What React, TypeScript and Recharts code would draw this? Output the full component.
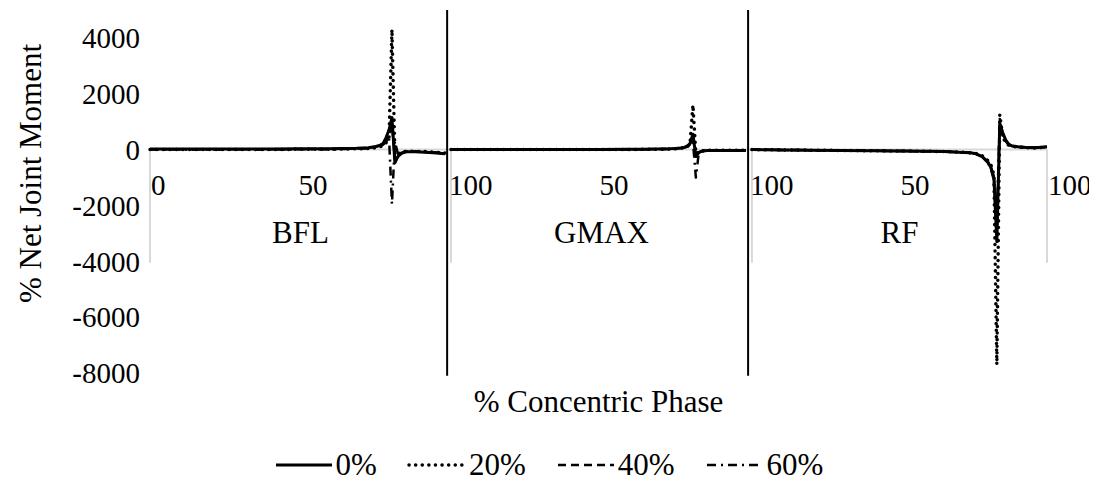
import React from 'react';
import {
  LineChart,
  Line,
  XAxis,
  YAxis,
  ReferenceLine,
  ReferenceDot,
  Legend,
} from 'recharts';

// Sampled positions within each concentric phase (0–100 %)
const phase = [0, 10, 20, 30, 40, 50, 60, 65, 70, 74, 76, 78, 79, 80, 81, 82, 83, 84, 85, 86, 87, 88, 90, 93, 96, 100];

const muscles = ['BFL', 'GMAX', 'RF'];
const loads = ['0%', '20%', '40%', '60%'];

// BFL
const bfl0 = [20, 20, 20, 20, 20, 30, 30, 40, 50, 70, 100, 160, 220, 430, 700, 1150, -470, -250, -150, -100, -80, -80, -80, -90, -110, -150];
const bfl20 = [0, 0, 0, 0, 0, 10, 10, 20, 30, 40, 60, 100, 150, 250, 400, 4300, -200, -150, -100, -80, -60, -60, -60, -70, -90, -120];
const bfl40 = [10, 10, 10, 10, 10, 20, 20, 30, 40, 60, 90, 140, 200, 300, 500, 900, -350, -200, -120, -90, -70, -70, -70, -80, -100, -140];
const bfl60 = [0, 0, 0, 0, 0, 10, 10, 20, 30, 50, 80, 120, 180, 280, 450, -1950, 300, -150, -100, -80, -60, -60, -60, -70, -90, -130];

// GMAX
const gmax0 = [0, 0, 0, 0, 0, 0, 10, 10, 20, 30, 40, 60, 80, 120, 220, 550, -250, -100, -60, -40, -30, -30, -30, -30, -30, -30];
const gmax20 = [0, 0, 0, 0, 0, 0, 0, 10, 10, 20, 30, 50, 70, 100, 200, 1600, -150, -80, -50, -30, -20, -20, -20, -20, -20, -20];
const gmax40 = [0, 0, 0, 0, 0, 0, 10, 10, 20, 30, 40, 60, 80, 110, 200, 450, -300, -100, -60, -40, -30, -30, -30, -30, -30, -30];
const gmax60 = [0, 0, 0, 0, 0, 0, 0, 10, 10, 20, 30, 50, 70, 100, 180, 300, -1000, -100, -50, -30, -20, -20, -20, -20, -20, -20];

// RF
const rf0 = [0, -10, -20, -30, -40, -50, -60, -70, -90, -110, -150, -250, -350, -450, -650, -1000, -3300, 950, 600, 350, 200, 140, 100, 80, 70, 100];
const rf20 = [0, -10, -20, -30, -40, -50, -60, -70, -90, -110, -140, -220, -300, -400, -550, -900, -7700, 1250, 450, 250, 160, 120, 90, 70, 60, 90];
const rf40 = [0, -10, -20, -30, -40, -50, -60, -70, -90, -120, -150, -260, -360, -480, -700, -1100, -2900, 850, 500, 300, 180, 130, 100, 80, 70, 90];
const rf60 = [0, -10, -20, -30, -40, -50, -60, -70, -90, -120, -150, -250, -350, -450, -650, -1000, -2400, 1100, 550, 300, 180, 130, 100, 80, 70, 90];

const panelSeries = [
  [bfl0, bfl20, bfl40, bfl60],
  [gmax0, gmax20, gmax40, gmax60],
  [rf0, rf20, rf40, rf60],
];

// Axis layout values
const yTicks = [4000, 2000, 0, -2000, -4000, -6000, -8000];
const panelStart = [0, 102, 204];
const panelCenter = [51, 153, 254];
const groupTickPos = [0, 102, 204, 304];
const dividerPos = [100.7, 202.7];
const phaseTickPos = [0, 50, 101, 152, 203, 254, 304];
const phaseTickText = ['0', '50', '100', '50', '100', '50', '100'];

const keys = ['l0', 'l20', 'l40', 'l60'];

type Row = { x: number; [k: string]: number | null };
const rows: Row[] = [];
panelSeries.forEach((series, p) => {
  phase.forEach((ph, i) => {
    const r: Row = { x: panelStart[p] + ph };
    keys.forEach((k, s) => {
      r[k] = series[s][i];
    });
    rows.push(r);
  });
  if (p < panelSeries.length - 1) {
    const gap: Row = { x: panelStart[p] + 101 };
    keys.forEach((k) => {
      gap[k] = null;
    });
    rows.push(gap);
  }
});

const FONT = '"Liberation Serif", "Times New Roman", serif';
const FS = 31;
const FS_TICK = 29;

const lineStyles = [
  { strokeWidth: 3, strokeDasharray: undefined as string | undefined, strokeLinecap: 'butt' as const },
  { strokeWidth: 3.5, strokeDasharray: '0.1 6.5', strokeLinecap: 'round' as const },
  { strokeWidth: 2.5, strokeDasharray: '8 5', strokeLinecap: 'butt' as const },
  { strokeWidth: 2.5, strokeDasharray: '9 5 2 5', strokeLinecap: 'butt' as const },
];

function LegendContent() {
  return (
    <div
      style={{
        display: 'flex',
        justifyContent: 'center',
        alignItems: 'center',
        height: 30,
        gap: 30,
        fontFamily: FONT,
        fontSize: FS,
        lineHeight: '30px',
        color: '#000',
      }}
    >
      {loads.map((name, i) => (
        <div key={name} style={{ display: 'flex', alignItems: 'center', gap: 2 }}>
          <svg width={60} height={10}>
            <line
              x1={2}
              y1={5}
              x2={58}
              y2={5}
              stroke="#000"
              strokeWidth={lineStyles[i].strokeWidth}
              strokeDasharray={lineStyles[i].strokeDasharray}
              strokeLinecap={lineStyles[i].strokeLinecap}
            />
          </svg>
          <span>{name}</span>
        </div>
      ))}
    </div>
  );
}

const textAt = (label: string, dx: number, dy: number, anchor: 'start' | 'middle', size: number) =>
  (props: any) => (
    <text
      x={props.cx + dx}
      y={props.cy + dy}
      textAnchor={anchor}
      fontFamily={FONT}
      fontSize={size}
      fill="#000"
    >
      {label}
    </text>
  );

export default function App() {
  return (
    <div style={{ width: 1081 }}>
      <style>{'.recharts-surface{overflow:visible}'}</style>
      <LineChart
        width={1081}
        height={472}
        data={rows}
        margin={{ top: 2, right: 42, left: 0, bottom: 0 }}
      >
        <XAxis
          dataKey="x"
          type="number"
          domain={[0, 304]}
          tick={false}
          tickLine={false}
          axisLine={false}
          height={77}
          label={{
            value: '% Concentric Phase',
            position: 'insideTop',
            offset: 17,
            fill: '#000',
            fontSize: FS,
            fontFamily: FONT,
          }}
        />
        <YAxis
          type="number"
          domain={[-8000, 5000]}
          ticks={yTicks}
          allowDataOverflow
          width={142}
          axisLine={false}
          tickLine={false}
          tickMargin={4}
          tick={{ fill: '#000', fontSize: FS_TICK, fontFamily: FONT }}
          label={{
            content: (props: any) => {
              const vb = props.viewBox;
              const cx = vb.x + 22;
              const cy = vb.y + vb.height / 2 - 18;
              return (
                <text
                  x={cx}
                  y={cy}
                  transform={`rotate(-90 ${cx} ${cy})`}
                  textAnchor="middle"
                  dominantBaseline="central"
                  fontFamily={FONT}
                  fontSize={FS}
                  fill="#000"
                >
                  % Net Joint Moment
                </text>
              );
            },
          }}
        />

        {/* category axis line and group tick marks */}
        <ReferenceLine y={0} stroke="#d9d9d9" strokeWidth={2} />
        {groupTickPos.map((gx) => (
          <ReferenceLine
            key={`g${gx}`}
            segment={[{ x: gx, y: 0 }, { x: gx, y: -4050 }]}
            stroke="#d9d9d9"
            strokeWidth={2}
            ifOverflow="visible"
          />
        ))}

        {keys.map((k, i) => (
          <Line
            key={k}
            dataKey={k}
            name={loads[i]}
            type="linear"
            stroke="#000"
            strokeWidth={lineStyles[i].strokeWidth}
            strokeDasharray={lineStyles[i].strokeDasharray}
            strokeLinecap={lineStyles[i].strokeLinecap}
            strokeLinejoin="round"
            dot={false}
            activeDot={false}
            connectNulls={false}
            isAnimationActive={false}
          />
        ))}

        {dividerPos.map((dx) => (
          <ReferenceLine
            key={`d${dx}`}
            segment={[{ x: dx, y: 5000 }, { x: dx, y: -8100 }]}
            stroke="#000"
            strokeWidth={2}
            ifOverflow="visible"
          />
        ))}

        {phaseTickPos.map((px, i) => (
          <ReferenceDot
            key={`t${i}`}
            x={px}
            y={0}
            r={0}
            shape={textAt(phaseTickText[i], 1, 45, 'start', FS_TICK)}
          />
        ))}
        {panelCenter.map((cx, i) => (
          <ReferenceDot
            key={`m${i}`}
            x={cx}
            y={0}
            r={0}
            shape={textAt(muscles[i], 0, 93, 'middle', FS)}
          />
        ))}

        <Legend
          verticalAlign="bottom"
          height={30}
          wrapperStyle={{ left: 0, width: 1081 }}
          content={<LegendContent />}
        />
      </LineChart>
    </div>
  );
}
